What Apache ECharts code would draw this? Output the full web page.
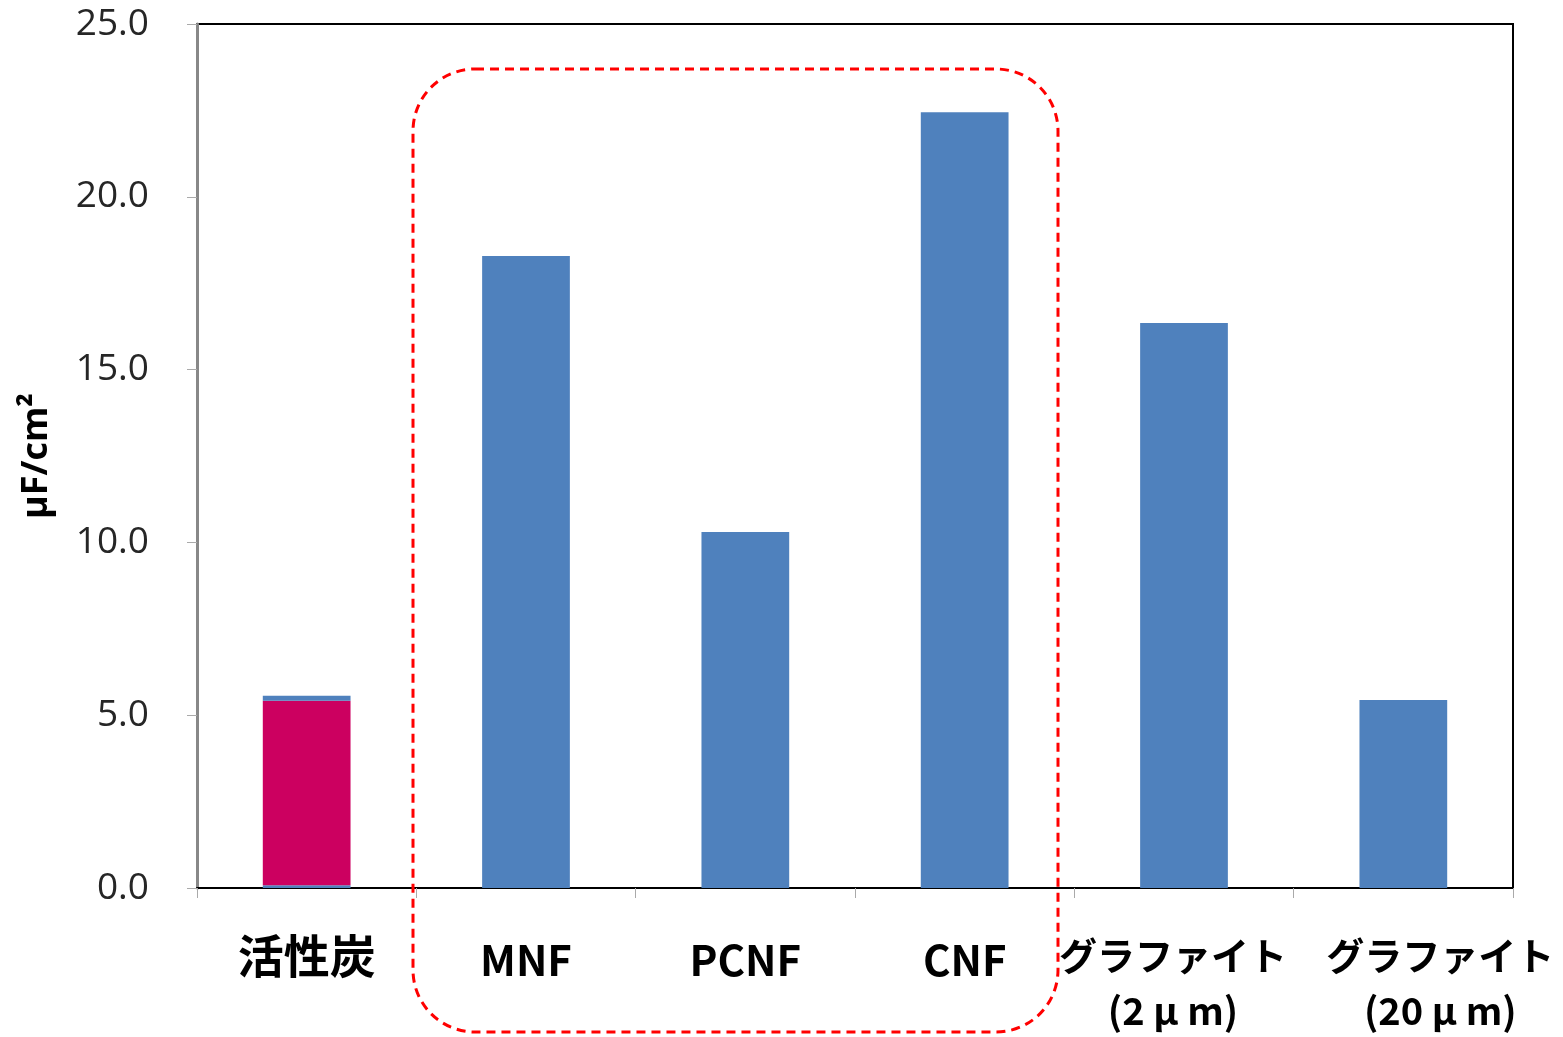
<!DOCTYPE html>
<html>
<head>
<meta charset="utf-8">
<script src="https://cdn.jsdelivr.net/npm/echarts@6/dist/echarts.min.js"></script>
<style>
html, body { margin: 0; padding: 0; background: #fff; }
#main { width: 1563px; height: 1037px; }
</style>
</head>
<body>
<div id="main"></div>
<script>
var categories = ['活性炭', 'MNF', 'PCNF', 'CNF', 'グラファイト\n(2 \u00b5 m)', 'グラファイト\n(20 \u00b5 m)'];
var baseValues = [0.08, 18.29, 10.3, 22.45, 16.35, 5.44];
var pinkValues = [5.34, '-', '-', '-', '-', '-'];
var capValues = [0.14, '-', '-', '-', '-', '-'];
var yTicks = [0, 5, 10, 15, 20, 25];

// label text shifts (the two graphite labels sit apart in the original)
var labelPad = [null, null, null, null, [0, 22, 0, 0], [0, 0, 0, 74]];

var chart = echarts.init(document.getElementById('main'));

var catData = categories.map(function(c, i) {
	var item = { value: c };
	if(labelPad[i]) {
		item.textStyle = { padding: labelPad[i] };
	}
	return item;
});

function fmtLabel(v) {
	if(v == '活性炭') {
		return '{k|' + v + '}';
	}
	if(v.indexOf('\n') >= 0) {
		var parts = v.split('\n');
		return '{g|' + parts[0] + '}\n{p|' + parts[1] + '}';
	}
	return '{l|' + v + '}';
}

var option = {
	backgroundColor: '#fff',
	animation: false,
	grid: {
		left: 197,
		right: 50,
		top: 24,
		bottom: 149,
		show: true,
		borderColor: '#000',
		borderWidth: 2,
		outerBoundsMode: 'none',
		containLabel: false
	},
	xAxis: {
		type: 'category',
		data: catData,
		axisLine: { lineStyle: { color: '#000', width: 2 } },
		axisTick: { show: true, length: 10, lineStyle: { color: '#aaa' } },
		axisLabel: {
			margin: 40,
			color: '#000',
			interval: 0,
			formatter: fmtLabel,
			rich: {
				k: { fontFamily: 'Noto Sans CJK JP', fontWeight: 'bold', fontSize: 46, lineHeight: 56, color: '#000' },
				l: { fontFamily: 'Noto Sans CJK JP', fontWeight: 'bold', fontSize: 42, lineHeight: 56, padding: [8, 0, 0, 0], color: '#000' },
				g: { fontFamily: 'Noto Sans CJK JP', fontWeight: 'bold', fontSize: 38, lineHeight: 56, color: '#000' },
				p: { fontFamily: 'Noto Sans CJK JP', fontWeight: 'bold', fontSize: 38, lineHeight: 54, color: '#000' }
			}
		}
	},
	yAxis: {
		type: 'value',
		min: 0,
		max: 25,
		interval: 5,
		name: '\u00b5F/cm\u00b2',
		nameLocation: 'middle',
		nameGap: 142,
		nameRotate: 90,
		nameTextStyle: {
			fontFamily: 'Open Sans',
			fontWeight: 'bold',
			fontSize: 36,
			color: '#000'
		},
		axisLine: { show: true, lineStyle: { color: '#888', width: 3 } },
		axisTick: { show: true, length: 10, lineStyle: { color: '#aaa' } },
		splitLine: { show: false },
		axisLabel: {
			margin: 48,
			color: '#262626',
			fontFamily: 'Open Sans',
			fontSize: 37,
			formatter: function(v) {
				return yTicks.indexOf(v) >= 0 ? v.toFixed(1) : '';
			}
		}
	},
	series: [{
		type: 'bar',
		stack: 'total',
		barWidth: '40%',
		itemStyle: { color: '#4F81BD' },
		data: baseValues
	}, {
		type: 'bar',
		stack: 'total',
		barWidth: '40%',
		itemStyle: { color: '#CC0060' },
		data: pinkValues
	}, {
		type: 'bar',
		stack: 'total',
		barWidth: '40%',
		itemStyle: { color: '#4F81BD' },
		data: capValues
	}]
};

chart.setOption(option);

// red dashed rounded box around the fibre samples
chart.setOption({
	graphic: [{
		type: 'rect',
		shape: { x: 413, y: 69, width: 645, height: 963, r: 62 },
		style: {
			fill: 'none',
			stroke: '#FF0000',
			lineWidth: 3,
			lineDash: [9, 6]
		},
		z: 100
	}]
});
</script>
</body>
</html>
